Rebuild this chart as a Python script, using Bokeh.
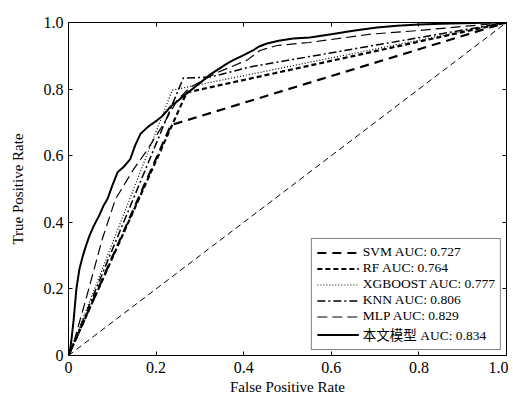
from bokeh.plotting import figure
from bokeh.models import Range1d, FixedTicker, LinearAxis, Legend, LegendItem
from bokeh.embed import file_html
from bokeh.resources import INLINE

# ---- data ----
tick_values = [0, 0.2, 0.4, 0.6, 0.8, 1.0]
tick_labels = ["0", "0.2", "0.4", "0.6", "0.8", "1.0"]

svm_fpr = [0, 0.234, 1]
svm_tpr = [0, 0.692, 1]
rf_fpr = [0, 0.27, 1]
rf_tpr = [0, 0.79, 1]
xgb_fpr = [0, 0.237, 1]
xgb_tpr = [0, 0.797, 1]
knn_fpr = [0, 0.262, 0.323, 0.42, 1]
knn_tpr = [0, 0.833, 0.836, 0.868, 1]
mlp_fpr = [0, 0.01, 0.04, 0.077, 0.107, 0.148, 0.18, 0.216, 0.248, 0.278, 0.34,
           0.408, 0.437, 0.476, 0.55, 0.69, 0.80, 0.916, 1.0]
mlp_tpr = [0, 0.03, 0.17, 0.349, 0.469, 0.558, 0.618, 0.693, 0.766, 0.806, 0.85,
           0.887, 0.916, 0.931, 0.94, 0.965, 0.976, 0.99, 1.0]
ours_fpr = [0, 0.004, 0.007, 0.012, 0.018, 0.025, 0.033, 0.04, 0.048, 0.058, 0.07,
            0.08, 0.089, 0.1, 0.112, 0.125, 0.141, 0.152, 0.164, 0.18, 0.19, 0.203,
            0.215, 0.232, 0.25, 0.271, 0.29, 0.308, 0.325, 0.346, 0.36, 0.376, 0.4,
            0.421, 0.435, 0.453, 0.48, 0.513, 0.551, 0.6, 0.65, 0.704, 0.75, 0.8,
            0.85, 0.9, 0.95, 1.0]
ours_tpr = [0, 0.02, 0.05, 0.11, 0.2, 0.26, 0.3, 0.33, 0.36, 0.39, 0.42,
            0.45, 0.47, 0.51, 0.55, 0.565, 0.59, 0.63, 0.665, 0.685, 0.695, 0.707,
            0.72, 0.746, 0.765, 0.788, 0.808, 0.827, 0.845, 0.863, 0.875, 0.887, 0.902,
            0.916, 0.928, 0.937, 0.945, 0.952, 0.955, 0.965, 0.975, 0.985, 0.99, 0.994,
            0.996, 0.998, 0.999, 1.0]
diag = [0, 1]

labels = ["SVM AUC: 0.727", "RF AUC: 0.764", "XGBOOST AUC: 0.777",
          "KNN AUC: 0.806", "MLP AUC: 0.829", "本文模型 AUC: 0.834"]

SERIF = "Liberation Serif"

p = figure(width=508, height=402, output_backend="svg", toolbar_location=None,
           x_range=Range1d(0, 1), y_range=Range1d(0, 1),
           min_border_left=68, min_border_right=2, min_border_top=22, min_border_bottom=47)
p.grid.visible = False
p.outline_line_color = "black"
p.background_fill_color = "white"
p.border_fill_color = "white"

for ax in [p.xaxis[0], p.yaxis[0]]:
    ax.ticker = FixedTicker(ticks=tick_values)
    ax.major_label_overrides = dict(zip(tick_values, tick_labels))
    ax.major_tick_in = 4
    ax.major_tick_out = 0
    ax.minor_tick_line_color = None
    ax.major_label_text_font = SERIF
    ax.major_label_text_font_size = "16px"
    ax.major_label_text_color = "black"
    ax.axis_label_text_font = SERIF
    ax.axis_label_text_font_size = "15px"
    ax.axis_label_text_font_style = "normal"
    ax.axis_label_text_color = "black"
    ax.axis_line_color = "black"
    ax.major_tick_line_color = "black"
p.xaxis[0].axis_label = "False Positive Rate"
p.yaxis[0].axis_label = "True Positive Rate"
p.xaxis[0].major_label_standoff = 6
p.yaxis[0].major_label_standoff = 5
p.xaxis[0].axis_label_standoff = 3
p.yaxis[0].axis_label_standoff = 15

for side in ["above", "right"]:
    ax = LinearAxis(ticker=FixedTicker(ticks=tick_values), major_tick_in=4, major_tick_out=0,
                    minor_tick_line_color=None,
                    major_label_overrides={v: "" for v in tick_values},
                    major_label_standoff=0, axis_line_color="black")
    p.add_layout(ax, side)

p.line(diag, diag, line_color="black", line_width=1, line_dash="6 4")

r_svm = p.line(svm_fpr, svm_tpr, line_color="black", line_width=2.2, line_dash="9 6")
r_rf = p.line(rf_fpr, rf_tpr, line_color="black", line_width=2.2, line_dash="5 3")
r_xgb = p.line(xgb_fpr, xgb_tpr, line_color="black", line_width=1.2, line_dash="1 2")
r_knn = p.line(knn_fpr, knn_tpr, line_color="black", line_width=1.5, line_dash="8 3 2 3")
r_mlp = p.line(mlp_fpr, mlp_tpr, line_color="black", line_width=1.2, line_dash="10 5")
r_ours = p.line(ours_fpr, ours_tpr, line_color="black", line_width=2)

legend = Legend(items=[LegendItem(label=l, renderers=[r]) for l, r in
                       zip(labels, [r_svm, r_rf, r_xgb, r_knn, r_mlp, r_ours])],
                location="bottom_right")
legend.label_text_font = SERIF + ", Noto Sans CJK SC"
legend.label_text_font_size = "13.5px"
legend.label_text_color = "black"
legend.glyph_width = 42
legend.glyph_height = 15
legend.label_height = 15
legend.spacing = 0
legend.padding = 5
legend.margin = 5
legend.label_standoff = 4
legend.border_line_color = "black"
legend.border_line_width = 1
legend.background_fill_alpha = 1
p.add_layout(legend, "center")

open("out.html", "w").write(file_html(p, INLINE))
